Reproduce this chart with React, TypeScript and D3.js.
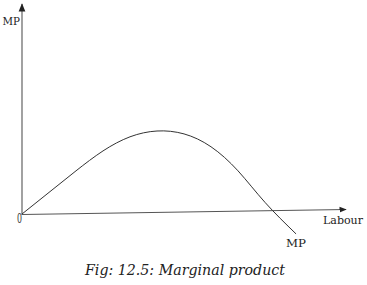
import React from "react";
import * as d3 from "d3";

const labour = [0, 1, 2, 3, 4, 5, 6, 7, 8, 9, 10.15];
const mp = [0, 2.6, 5.2, 7.6, 9.3, 10, 9.65, 8.1, 5.2, 1.4, -2.4];
const xLabel = "Labour";
const yLabel = "MP";
const curveLabel = "MP";
const originLabel = "0";
const caption = "Fig: 12.5: Marginal product";

const W = 367;
const H = 285;

export default function App() {
  const x = d3.scaleLinear().domain([0, 12]).range([22, 346]);
  const y = d3.scaleLinear().domain([0, 10]).range([214, 131]);
  const line = d3
    .line<number>()
    .x((_, i) => x(labour[i]))
    .y((d) => y(d))
    .curve(d3.curveNatural);
  const x0 = x(0);
  const y0 = y(0);
  const yTop = y(25.3);
  const xEnd = x(12);
  const tilt = 5;
  const font = "DejaVu Serif, Liberation Serif, serif";
  return (
    <svg
      width={W}
      height={H}
      style={{ position: "absolute", left: 0, top: 0, background: "#fff" }}
    >
      <defs>
        <marker id="arr" viewBox="0 0 10 10" refX="9" refY="5" markerWidth="6" markerHeight="6" orient="auto">
          <path d="M0,1 L10,5 L0,9 Z" fill="#222" />
        </marker>
      </defs>
      <line x1={x0} y1={y0 + 1} x2={x0} y2={yTop} stroke="#7a7a7a" strokeWidth={1.4} markerEnd="url(#arr)" />
      <line x1={x0} y1={y0 + 0.5} x2={xEnd} y2={y0 + 0.5 - tilt} stroke="#555" strokeWidth={1.2} markerEnd="url(#arr)" />
      <path d={line(mp) || ""} fill="none" stroke="#333" strokeWidth={1} />
      <text x={2.5} y={25} fontFamily={font} fontSize={11.5} fill="#222" textLength={17.5} lengthAdjust="spacingAndGlyphs">
        {yLabel}
      </text>
      <text x={17} y={222.5} fontFamily={font} fontSize={13.5} fill="#333" textLength={5} lengthAdjust="spacingAndGlyphs">
        {originLabel}
      </text>
      <text x={323} y={224} fontFamily={font} fontSize={11.5} fill="#222" textLength={40} lengthAdjust="spacingAndGlyphs">
        {xLabel}
      </text>
      <text x={286} y={247} fontFamily={font} fontSize={11.5} fill="#222" textLength={20} lengthAdjust="spacingAndGlyphs">
        {curveLabel}
      </text>
      <text x={85} y={275} fontFamily={font} fontSize={14.5} fontStyle="italic" fill="#222" textLength={200} lengthAdjust="spacingAndGlyphs">
        {caption}
      </text>
    </svg>
  );
}
